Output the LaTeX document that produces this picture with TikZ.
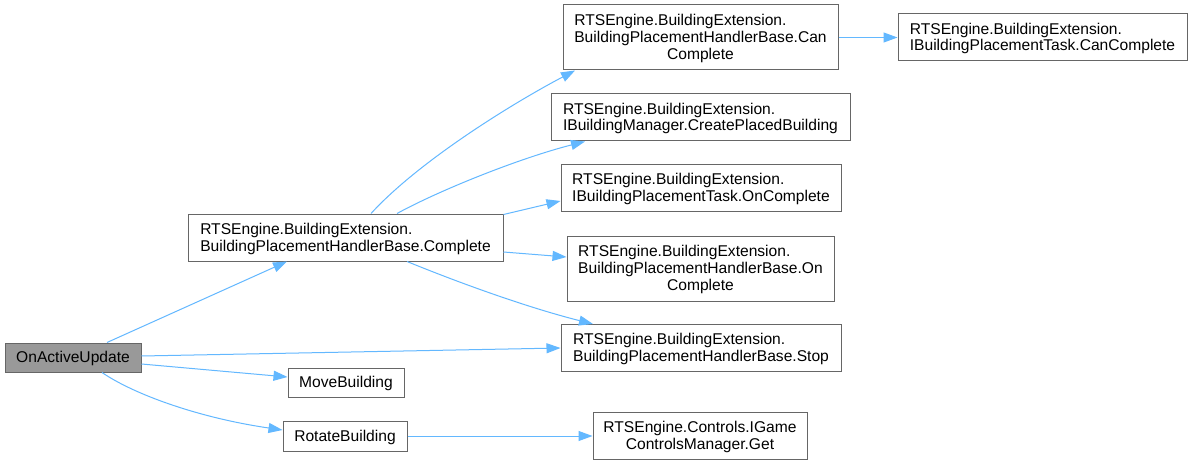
\documentclass[tikz,border=0pt]{standalone}
\usepackage{fontspec}
\setmainfont{Liberation Sans}
\usetikzlibrary{arrows.meta}
\definecolor{edgeblue}{HTML}{63B8FF}
\definecolor{boxline}{HTML}{666666}
\definecolor{rootfill}{HTML}{999999}
\renewcommand\arraystretch{0}
\newcommand\RStr{\rule[-2pt]{0pt}{15.5pt}}
\newcommand\myCL[1]{\multicolumn{1}{@{}c@{}}{\RStr #1}}
\newcommand\tb[1]{\begin{tabular}{@{}l@{}}#1\end{tabular}}
\tikzset{
  fn/.style={draw=boxline, fill=white, line width=1pt, inner sep=0pt, rectangle,
    font=\fontsize{15.6}{17.5}\selectfont, text=black},
  rootfn/.style={fn, fill=rootfill},
  edge/.style={draw=edgeblue, line width=1pt, -{Triangle[length=14pt,width=10pt]}}
}
\begin{document}
\begin{tikzpicture}[x=1pt,y=-1pt]
\fill[white] (0,0) rectangle (1193,465);
\useasboundingbox (0,0) rectangle (1193,465);
% nodes
\node[rootfn, minimum width=136pt, minimum height=29pt] (oau) at (73,357.5) {\tb{\RStr OnActiveUpdate}};
\node[fn, minimum width=315pt, minimum height=47pt] (comp) at (345.5,237.5)
  {\tb{\RStr RTSEngine.BuildingExtension.\\\RStr BuildingPlacementHandlerBase.Complete}};
\node[fn, minimum width=116pt, minimum height=29pt] (move) at (346,382.5) {\tb{\RStr MoveBuilding}};
\node[fn, minimum width=124pt, minimum height=30pt] (rot) at (345,436) {\tb{\RStr RotateBuilding}};
\node[fn, minimum width=275pt, minimum height=65pt] (canb) at (700.5,37.5)
  {\tb{\RStr RTSEngine.BuildingExtension.\\\RStr BuildingPlacementHandlerBase.Can\\\myCL{Complete}}};
\node[fn, minimum width=299pt, minimum height=47pt] (cpb) at (700.5,117.5)
  {\tb{\RStr RTSEngine.BuildingExtension.\\\RStr IBuildingManager.CreatePlacedBuilding}};
\node[fn, minimum width=280pt, minimum height=47pt] (oct) at (701,188)
  {\tb{\RStr RTSEngine.BuildingExtension.\\\RStr IBuildingPlacementTask.OnComplete}};
\node[fn, minimum width=267pt, minimum height=65pt] (ocb) at (700.5,268.5)
  {\tb{\RStr RTSEngine.BuildingExtension.\\\RStr BuildingPlacementHandlerBase.On\\\myCL{Complete}}};
\node[fn, minimum width=280pt, minimum height=47pt] (stop) at (701,348)
  {\tb{\RStr RTSEngine.BuildingExtension.\\\RStr BuildingPlacementHandlerBase.Stop}};
\node[fn, minimum width=289pt, minimum height=47pt] (cct) at (1042.5,37.5)
  {\tb{\RStr RTSEngine.BuildingExtension.\\\RStr IBuildingPlacementTask.CanComplete}};
\node[fn, minimum width=214pt, minimum height=47pt] (igm) at (700,436)
  {\tb{\RStr RTSEngine.Controls.IGame\\\myCL{ControlsManager.Get}}};
% edges
\draw[edge] ([xshift=34pt]oau.north) -- ([xshift=-58.5pt]comp.south);
\draw[edge] ([yshift=1.5pt]oau.east) -- (stop.west);
\draw[edge] ([yshift=-6.5pt]oau.east) -- ([yshift=5.5pt]move.west);
\draw[edge] ([xshift=29pt]oau.south) .. controls (135,395) and (200,418) .. ([yshift=6pt]rot.west);
\draw[edge] ([xshift=25.5pt]comp.north) .. controls (420,160) and (515,102) .. ([xshift=-125.5pt]canb.south);
\draw[edge] ([xshift=51.5pt]comp.north) .. controls (440,190) and (520,158) .. ([xshift=-115.5pt]cpb.south);
\draw[edge] ([yshift=-1pt]comp.north east) -- ([yshift=-13pt]oct.west);
\draw[edge] ([yshift=-14.5pt]comp.east) -- ([yshift=11.5pt]ocb.west);
\draw[edge] ([xshift=61.5pt]comp.south) .. controls (467,286) and (533,309) .. ([xshift=-108pt]stop.north);
\draw[edge] (canb.east) -- (cct.west);
\draw[edge] (rot.east) -- (igm.west);
\end{tikzpicture}
\end{document}
